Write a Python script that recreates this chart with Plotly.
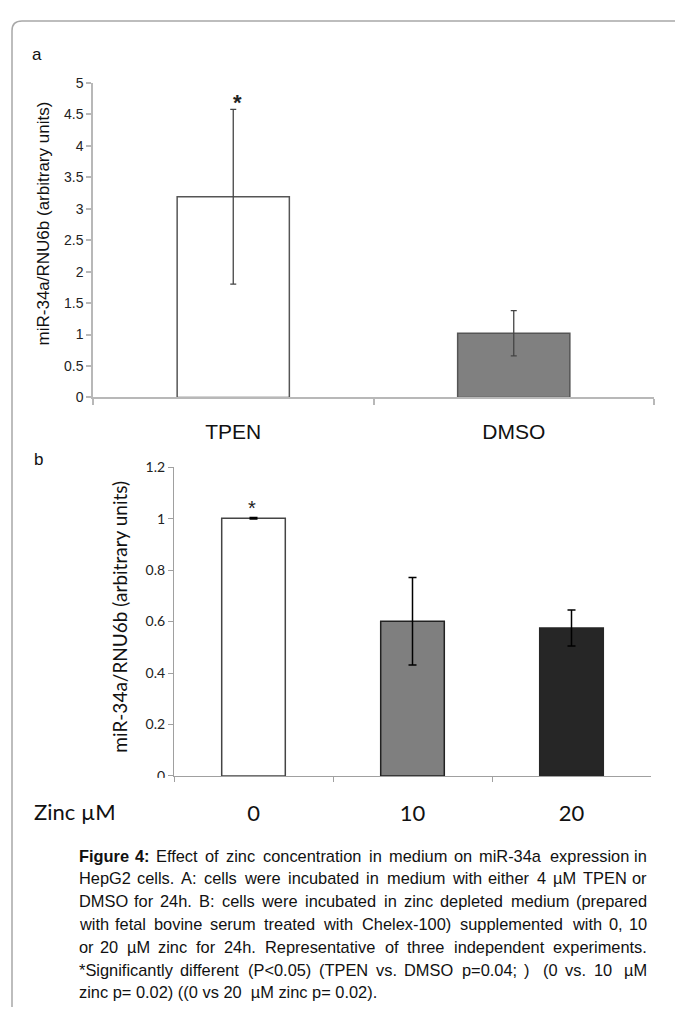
import plotly.graph_objects as go

# page geometry (the browser adds an 8px body margin around the plot div)
PAGE_W, PAGE_H = 683, 1010
OFF = 8
W, H = PAGE_W - OFF, PAGE_H - OFF

# ---------------- data ----------------
a_categories = ["TPEN", "DMSO"]
a_values = [3.19, 1.02]
a_errors = [1.39, 0.36]

b_categories = ["0", "10", "20"]
b_values = [1.002, 0.601, 0.575]
b_errors = [0.003, 0.17, 0.07]

a_yticks = [0, 0.5, 1, 1.5, 2, 2.5, 3, 3.5, 4, 4.5, 5]
b_yticks = [0, 0.2, 0.4, 0.6, 0.8, 1, 1.2]

caption_bold = "Figure 4:"
caption_lines = [
    "Figure 4: Effect of zinc concentration in medium on miR-34a expression in",
    "HepG2 cells. A: cells were incubated in medium with either 4 µM TPEN or",
    "DMSO for 24h. B: cells were incubated in zinc depleted medium (prepared",
    "with fetal bovine serum treated with Chelex-100) supplemented with 0, 10",
    "or 20 µM zinc for 24h. Representative of three independent experiments.",
    "*Significantly different (P<0.05) (TPEN vs. DMSO p=0.04; )  (0 vs. 10  µM",
    "zinc p= 0.02) ((0 vs 20  µM zinc p= 0.02).",
]


def px(x):
    return (x - OFF) / W


def py(y):
    return 1 - (y - OFF) / H


ARIAL = "Liberation Sans, Arial, sans-serif"
CALIBRI = "Lato, Carlito, Calibri, sans-serif"

# Arial / Liberation Sans advance widths (1/1000 em) for justified caption layout
_w = {' ': 278, '!': 278, '(': 333, ')': 333, '*': 389, ',': 278, '-': 333, '.': 278,
      '/': 278, ':': 278, ';': 278, '<': 584, '=': 584, '>': 584, 'µ': 556}
for c in "0123456789":
    _w[c] = 556
_up = dict(A=667, B=667, C=722, D=722, E=667, F=611, G=778, H=722, I=278, J=500, K=667,
           L=556, M=833, N=722, O=778, P=667, Q=778, R=722, S=667, T=611, U=722, V=667,
           W=944, X=667, Y=667, Z=611)
_lo = dict(a=556, b=556, c=500, d=556, e=556, f=278, g=556, h=556, i=222, j=222, k=500,
           l=222, m=833, n=556, o=556, p=556, q=556, r=333, s=500, t=278, u=556, v=500,
           w=722, x=500, y=500, z=500)
_w.update(_up)
_w.update(_lo)
_wb = dict(_w)
_wb.update({'F': 611, 'i': 278, 'g': 611, 'u': 611, 'r': 389, 'e': 556, ':': 333})


def text_w(s, size, bold=False):
    tab = _wb if bold else _w
    return sum(tab.get(c, 556) for c in s) * size / 1000.0 * 1.02


fig = go.Figure()

# panel a
fig.add_trace(go.Bar(
    x=a_categories, y=a_values,
    marker=dict(color=["#ffffff", "#808080"], line=dict(color="#555555", width=1.5)),
    error_y=dict(type="data", array=a_errors, visible=True, color="#444444",
                 thickness=1.3, width=3),
    xaxis="x", yaxis="y", showlegend=False,
))

# panel b
fig.add_trace(go.Bar(
    x=b_categories, y=b_values,
    marker=dict(color=["#ffffff", "#7f7f7f", "#262626"],
                line=dict(color=["#444444", "#222222", "#262626"], width=1.5)),
    error_y=dict(type="data", array=b_errors, visible=True, color="#000000",
                 thickness=1.5, width=4),
    xaxis="x2", yaxis="y2", showlegend=False,
))

axis_gray = "#b8b8b8"

fig.update_layout(
    width=W, height=H,
    margin=dict(l=0, r=0, t=0, b=0),
    paper_bgcolor="white", plot_bgcolor="rgba(0,0,0,0)",
    bargap=0.6,
    xaxis=dict(
        domain=[px(93), px(654)], anchor="y", type="category",
        range=[-0.5, 1.5], tickson="boundaries",
        showline=True, linecolor=axis_gray, linewidth=1.5,
        ticks="outside", ticklen=6, tickcolor=axis_gray, tickwidth=1.5,
        showgrid=False, zeroline=False,
        tickfont=dict(family=ARIAL, size=21, color="#111111"),
        ticklabelstandoff=15,
    ),
    yaxis=dict(
        domain=[py(395), py(75)], anchor="x", range=[0, 5],
        tickvals=a_yticks,
        showline=True, linecolor=axis_gray, linewidth=1.5,
        ticks="outside", ticklen=5, tickcolor=axis_gray, tickwidth=1.5,
        showgrid=False, zeroline=False,
        tickfont=dict(family=ARIAL, size=14, color="#222222"),
    ),
    xaxis2=dict(
        domain=[px(174), px(651)], anchor="y2", type="category",
        range=[-0.5, 2.5], tickson="boundaries",
        showline=True, linecolor="#a0a0a0", linewidth=1.2,
        ticks="outside", ticklen=5, tickcolor="#a0a0a0", tickwidth=1.2,
        showgrid=False, zeroline=False,
        tickfont=dict(family=CALIBRI, size=22, color="#111111"),
        ticklabelstandoff=18,
    ),
    yaxis2=dict(
        domain=[py(780), py(466)], anchor="x2", range=[0, 1.2],
        tickvals=b_yticks,
        showline=True, linecolor="#a0a0a0", linewidth=1.2,
        ticks="outside", ticklen=5, tickcolor="#a0a0a0", tickwidth=1.2,
        showgrid=False, zeroline=False,
        tickfont=dict(family=CALIBRI, size=14, color="#222222"),
    ),
)

shapes = []
# frame with rounded top-left corner
r = 10
fx, fy = 12, 12
path = (f"M {px(fx)},{py(PAGE_H + 5)} L {px(fx)},{py(fy + r)} "
        f"Q {px(fx)},{py(fy)} {px(fx + r)},{py(fy)} L {px(PAGE_W + 5)},{py(fy)}")
shapes.append(dict(type="path", xref="paper", yref="paper", path=path,
                   line=dict(color="#a8a8a8", width=1.5), layer="above"))
# hide lower part of the clipped "0" label in panel b
shapes.append(dict(type="rect", xref="paper", yref="paper",
                   x0=px(140), x1=px(172), y0=py(797), y1=py(782),
                   fillcolor="white", line=dict(width=0), layer="above"))
fig.update_layout(shapes=shapes)

ann = []
ann.append(dict(text="a", x=px(30), y=py(46), xref="paper", yref="paper",
                xanchor="left", yanchor="middle", showarrow=False,
                font=dict(family=ARIAL, size=17, color="#111111")))
ann.append(dict(text="b", x=px(32), y=py(458), xref="paper", yref="paper",
                xanchor="left", yanchor="middle", showarrow=False,
                font=dict(family=ARIAL, size=17, color="#111111")))
ann.append(dict(text="miR-34a/RNU6b (arbitrary units)", x=px(43), y=py(218),
                xref="paper", yref="paper", textangle=-90, showarrow=False,
                xanchor="center", yanchor="middle",
                font=dict(family=ARIAL, size=17, color="#111111")))
ann.append(dict(text="miR-34a/RNU6b (arbitrary units)", x=px(120), y=py(618),
                xref="paper", yref="paper", textangle=-90, showarrow=False,
                xanchor="center", yanchor="middle",
                font=dict(family=CALIBRI, size=19, color="#111111")))
ann.append(dict(text="Zinc µM", x=px(32), y=py(816), xref="paper", yref="paper",
                xanchor="left", yanchor="middle", showarrow=False,
                font=dict(family=CALIBRI, size=22, color="#111111")))
# significance stars
ann.append(dict(text="<b>*</b>", x=a_categories[0], y=a_values[0] + a_errors[0],
                xref="x", yref="y", xanchor="center", yanchor="bottom",
                xshift=4, yshift=-8, showarrow=False,
                font=dict(family=ARIAL, size=22, color="#222222")))
ann.append(dict(text="*", x=b_categories[0], y=b_values[0] + b_errors[0],
                xref="x2", yref="y2", xanchor="center", yanchor="bottom",
                xshift=-2, yshift=-4, showarrow=False,
                font=dict(family=ARIAL, size=20, color="#222222")))

# caption, justified word by word (words centred on their estimated slots)
CAP_SIZE = 16.4
CAP_L, CAP_R = 77, 649
cap_font = dict(family=ARIAL, size=CAP_SIZE, color="#111111")
bold_tokens = caption_bold.split(" ")
for i, line in enumerate(caption_lines):
    yy = py(861 + 23.2 * i)
    if i == len(caption_lines) - 1:
        # last line of a justified paragraph is left aligned
        ann.append(dict(text=line.replace("  ", "\u00a0 "), x=px(CAP_L), y=yy,
                        xref="paper", yref="paper", xanchor="left", yanchor="middle",
                        showarrow=False, font=cap_font))
        continue
    tokens = line.split(" ")
    bold_flags = [False] * len(tokens)
    if i == 0:
        for k in range(len(bold_tokens)):
            bold_flags[k] = True
    widths = [text_w(t, CAP_SIZE, b) for t, b in zip(tokens, bold_flags)]
    gap = (CAP_R - CAP_L - sum(widths)) / (len(tokens) - 1)
    xpos = CAP_L
    n = len(tokens)
    for k, (t, b, wdt) in enumerate(zip(tokens, bold_flags, widths)):
        if t:
            txt = f"<b>{t}</b>" if b else t
            if k == 0:
                xa, xx = "left", xpos
            elif k == n - 1:
                xa, xx = "right", CAP_R
            else:
                xa, xx = "center", xpos + wdt / 2
            ann.append(dict(text=txt, x=px(xx), y=yy, xref="paper", yref="paper",
                            xanchor=xa, yanchor="middle", showarrow=False,
                            font=cap_font))
        xpos += wdt + gap
fig.update_layout(annotations=ann)

fig.write_html("out.html")
